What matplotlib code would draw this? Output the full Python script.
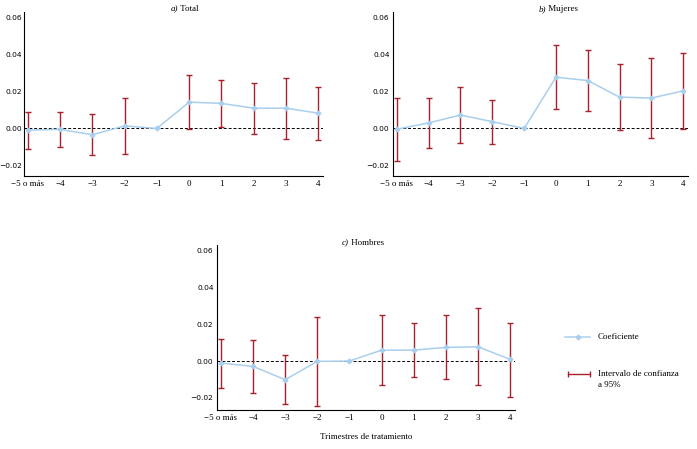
import matplotlib.pyplot as plt

# trimestres relativos al tratamiento
quarters = ["\u22125 o más", "\u22124", "\u22123", "\u22122", "\u22121", "0", "1", "2", "3", "4"]

total_coef = [-0.0009, -0.0005, -0.0034, 0.0014, 0.0, 0.0143, 0.0136, 0.0110, 0.0110, 0.0083]
total_hi = [0.0092, 0.0092, 0.0076, 0.0165, 0.0, 0.0292, 0.0265, 0.0248, 0.0274, 0.0227]
total_lo = [-0.0112, -0.0103, -0.0143, -0.0138, 0.0, -0.0005, 0.0007, -0.0028, -0.0058, -0.0062]

mujeres_coef = [-0.0004, 0.0030, 0.0073, 0.0037, 0.0, 0.0278, 0.0260, 0.0170, 0.0165, 0.0204]
mujeres_hi = [0.0165, 0.0163, 0.0223, 0.0156, 0.0, 0.0451, 0.0425, 0.0350, 0.0380, 0.0407]
mujeres_lo = [-0.0179, -0.0106, -0.0081, -0.0083, 0.0, 0.0106, 0.0096, -0.0009, -0.0053, -0.0005]

hombres_coef = [-0.0011, -0.0029, -0.0101, -0.0002, 0.0, 0.0059, 0.0059, 0.0074, 0.0077, 0.0009]
hombres_hi = [0.0117, 0.0115, 0.0031, 0.0236, 0.0, 0.0249, 0.0205, 0.0249, 0.0285, 0.0207]
hombres_lo = [-0.0144, -0.0175, -0.0234, -0.0241, 0.0, -0.0128, -0.0086, -0.0099, -0.0130, -0.0193]

yticks = [-0.02, 0.0, 0.02, 0.04, 0.06]

LINE_C = "#a9cfee"
CI_C = "#a8202c"
SERIF = "Liberation Serif"
W, H = 697, 449


def px_axes(fig, x0, y0, x1, y1):
    # pixel box (top-left origin) -> figure coords
    return fig.add_axes([x0 / W, 1 - y1 / H, (x1 - x0) / W, (y1 - y0) / H])


def panel(ax, coef, lo, hi, ylim, ypad=2.5):
    xs = list(range(len(quarters)))
    for i in xs:
        if hi[i] == lo[i]:
            continue
        ax.errorbar([xs[i]], [coef[i]],
                    yerr=[[coef[i] - lo[i]], [hi[i] - coef[i]]],
                    fmt="none", ecolor=CI_C, elinewidth=1.0, capsize=2, capthick=1.0, zorder=2)
    ax.axhline(0, color="black", lw=0.7, ls=(0, (3, 2)), zorder=1)
    ax.plot(xs, coef, color=LINE_C, lw=1.1, marker="P", ms=3, zorder=3)
    ax.set_xlim(-0.12, len(xs) - 1 + 0.15)
    ax.set_ylim(*ylim)
    ax.set_yticks(yticks)
    ax.set_yticklabels([f"{v:.2f}".replace("-", "\u2212") for v in yticks], fontsize=5.4,
                       family="DejaVu Sans")
    ax.set_xticks(xs)
    ax.set_xticklabels(quarters, fontsize=6.5, family=SERIF)
    ax.tick_params(axis="x", length=0, pad=3)
    ax.tick_params(axis="y", length=0, pad=ypad)
    for s in ["top", "right"]:
        ax.spines[s].set_visible(False)
    for s in ["left", "bottom"]:
        ax.spines[s].set_linewidth(0.8)


fig = plt.figure(figsize=(W / 100, H / 100), dpi=100)

ax_a = px_axes(fig, 24, 12, 323, 176)
panel(ax_a, total_coef, total_lo, total_hi, (-0.0258, 0.0632), ypad=1.2)
ax_b = px_axes(fig, 393, 12, 688, 176)
panel(ax_b, mujeres_coef, mujeres_lo, mujeres_hi, (-0.0258, 0.0632))
ax_c = px_axes(fig, 217, 245, 515, 410)
panel(ax_c, hombres_coef, hombres_lo, hombres_hi, (-0.0265, 0.0628))


def title(x, y, letter, name):
    fig.text(x / W, 1 - y / H, letter, ha="right", va="center", fontsize=6.5,
             family=SERIF, style="italic")
    fig.text(x / W, 1 - y / H, " " + name, ha="left", va="center", fontsize=6.5, family=SERIF)


title(178, 9, "a)", "Total")
title(546, 9, "b)", "Mujeres")
title(349, 243, "c)", "Hombres")

fig.text(366 / W, 1 - 437 / H, "Trimestres de tratamiento", ha="center", va="center",
         fontsize=6.5, family=SERIF)

# leyenda
lg = px_axes(fig, 560, 325, 697, 390)
lg.set_xlim(0, 137)
lg.set_ylim(65, 0)
lg.axis("off")
lg.plot([5, 30], [12, 12], color=LINE_C, lw=1.1)
lg.plot([17.5], [12], color=LINE_C, marker="P", ms=3)
lg.errorbar([19], [49], xerr=[[11]], fmt="none", ecolor=CI_C, elinewidth=1.0,
            capsize=2.5, capthick=1.0)
lg.text(38, 12, "Coeficiente", va="center", fontsize=6.5, family=SERIF)
lg.text(38, 49, "Intervalo de confianza", va="center", fontsize=6.5, family=SERIF)
lg.text(38, 60, "a 95%", va="center", fontsize=6.5, family=SERIF)

fig.savefig("out.png", dpi=100)
